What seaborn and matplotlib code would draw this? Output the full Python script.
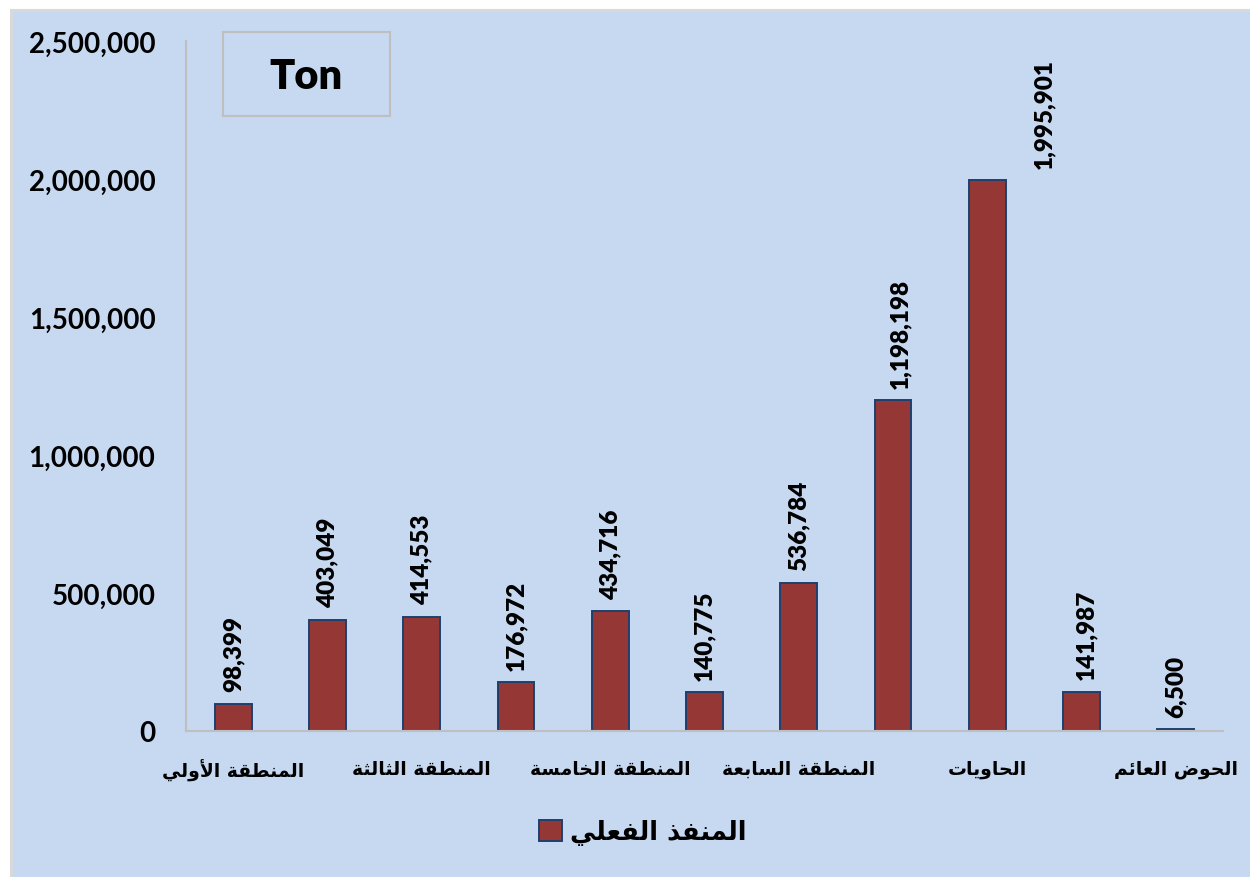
import numpy as np
import matplotlib
matplotlib.use("Agg")
import matplotlib.pyplot as plt
import matplotlib.patches as mpatches
from matplotlib.ticker import FuncFormatter
import seaborn as sns

# data
categories = ["المنطقة الأولي", "المنطقة الثانية", "المنطقة الثالثة", "المنطقة الرابعة",
              "المنطقة الخامسة", "المنطقة السادسة", "المنطقة السابعة", "المنطقة الثامنة",
              "الحاويات", "الصب", "الحوض العائم"]
values = [98399, 403049, 414553, 176972, 434716, 140775, 536784, 1198198, 1995901, 141987, 6500]
series_name = "المنفذ الفعلي"
unit_label = "Ton"

# --- small arabic shaper (matplotlib has no complex text layout) ---
FORMS = {
    'ا': (0xFE8D, False), 'أ': (0xFE83, False), 'ب': (0xFE8F, True), 'ة': (0xFE93, False),
    'ت': (0xFE95, True), 'ث': (0xFE99, True), 'ج': (0xFE9D, True), 'ح': (0xFEA1, True),
    'خ': (0xFEA5, True), 'د': (0xFEA9, False), 'ذ': (0xFEAB, False), 'ر': (0xFEAD, False),
    'ز': (0xFEAF, False), 'س': (0xFEB1, True), 'ش': (0xFEB5, True), 'ص': (0xFEB9, True),
    'ض': (0xFEBD, True), 'ط': (0xFEC1, True), 'ظ': (0xFEC5, True), 'ع': (0xFEC9, True),
    'غ': (0xFECD, True), 'ف': (0xFED1, True), 'ق': (0xFED5, True), 'ك': (0xFED9, True),
    'ل': (0xFEDD, True), 'م': (0xFEE1, True), 'ن': (0xFEE5, True), 'ه': (0xFEE9, True),
    'و': (0xFEED, False), 'ى': (0xFEEF, False), 'ي': (0xFEF1, True), 'ئ': (0xFE89, True),
}
LAM_ALEF = {'ا': 0xFEFB, 'أ': 0xFEF7}


def shape(text):
    units = []
    i = 0
    while i < len(text):
        c = text[i]
        if c == 'ل' and i + 1 < len(text) and text[i + 1] in LAM_ALEF:
            units.append((LAM_ALEF[text[i + 1]], False))
            i += 2
            continue
        units.append(FORMS.get(c, c))
        i += 1
    out = []
    for k, u in enumerate(units):
        if isinstance(u, str):
            out.append(u)
            continue
        base, dual = u
        prev = k > 0 and not isinstance(units[k - 1], str) and units[k - 1][1]
        nxt = dual and k + 1 < len(units) and not isinstance(units[k + 1], str)
        if prev and nxt:
            off = 3
        elif prev:
            off = 1
        elif nxt:
            off = 2
        else:
            off = 0
        out.append(chr(base + off))
    return "".join(out)[::-1]


bg = "#C6D9F1"
bar_color = "#953735"
edge_color = "#1F3F6E"

sns.set_style("white")
plt.rcParams['font.family'] = ['Lato', 'DejaVu Sans']
plt.rcParams['font.weight'] = 'bold'
plt.rcParams['text.color'] = 'black'
plt.rcParams['xtick.color'] = 'black'
plt.rcParams['ytick.color'] = 'black'

fig = plt.figure(figsize=(12.5, 8.78), dpi=100, facecolor="white")
fig.patches.append(mpatches.Rectangle((10.5 / 1250, -0.1), 1.2, 1 - 10.5 / 878 + 0.1,
                                      transform=fig.transFigure, facecolor=bg,
                                      edgecolor="#D9D9D9", linewidth=2.2, zorder=-5))
ax = fig.add_axes([0.1488, 0.1663, 0.8296, 0.7859])
ax.set_facecolor("none")

sns.barplot(x=list(range(len(values))), y=values, color=bar_color, width=0.39,
            edgecolor=edge_color, linewidth=1.4, saturation=1, ax=ax)

ax.set_ylim(0, 2500000)
ax.set_xlim(-0.5, len(values) - 0.5)
ax.set_yticks(np.arange(0, 2500001, 500000))
ax.yaxis.set_major_formatter(FuncFormatter(lambda v, p: f"{v:,.0f}"))
ax.tick_params(axis='y', length=0, pad=22, labelsize=20)
ax.tick_params(axis='x', length=0, pad=20)
ax.set_xticks(range(len(values)))
ax.set_xticklabels([shape(c) if i % 2 == 0 else "" for i, c in enumerate(categories)],
                   fontsize=13.5, fontweight='bold', family='DejaVu Sans')
ax.set_xlabel("")
ax.set_ylabel("")

for s in ["top", "right"]:
    ax.spines[s].set_visible(False)
for s in ["left", "bottom"]:
    ax.spines[s].set_color("#BFBFBF")
    ax.spines[s].set_linewidth(1.5)

label_dx = [0, 0, 0, 0, 0, 0, 0, 5, 41, 3, 0]
for i, v in enumerate(values):
    ax.annotate(f"{v:,}", (i, v), xytext=(label_dx[i], 9), textcoords="offset points",
                rotation=90, ha="center", va="bottom", fontsize=17.5, fontweight="heavy")

# unit box
fig.patches.append(mpatches.Rectangle((223 / 1250, 1 - 117 / 878), 167 / 1250, 84 / 878,
                                      transform=fig.transFigure, facecolor="none",
                                      edgecolor="#BFBFBF", linewidth=1.5, zorder=2))
fig.text(306 / 1250, 1 - 77 / 878, unit_label, ha="center", va="center",
         fontsize=30, fontweight="heavy")

handle = mpatches.Patch(facecolor=bar_color, edgecolor=edge_color, linewidth=1.4)
fig.legend([handle], [shape(series_name)], loc="center", bbox_to_anchor=(0.514, 0.051),
           frameon=False, prop={'family': 'DejaVu Sans', 'weight': 'bold', 'size': 18.5},
           handlelength=0.9, handleheight=0.9, handletextpad=0.3)

fig.savefig("out.png", dpi=100, facecolor="white")
